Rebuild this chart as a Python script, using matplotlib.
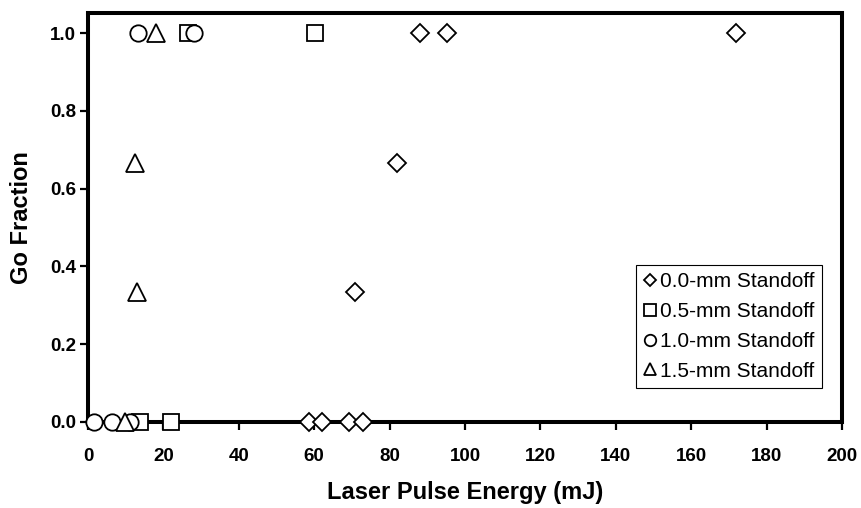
import matplotlib
matplotlib.use("Agg")
import matplotlib.pyplot as plt

# Data (Laser pulse energy in mJ, go fraction)
x_00 = [58.7, 62.1, 69.3, 73.0, 70.7, 81.9, 88.0, 95.2, 172.0]
y_00 = [0.0, 0.0, 0.0, 0.0, 0.333, 0.667, 1.0, 1.0, 1.0]

x_05 = [13.9, 22.1, 26.4, 60.3]
y_05 = [0.0, 0.0, 1.0, 1.0]

x_10 = [1.6, 6.4, 11.2, 13.3, 28.0]
y_10 = [0.0, 0.0, 0.0, 1.0, 1.0]

x_15 = [9.9, 12.5, 13.1, 18.1]
y_15 = [0.0, 0.667, 0.333, 1.0]

labels = ["0.0-mm Standoff", "0.5-mm Standoff", "1.0-mm Standoff", "1.5-mm Standoff"]
xticks = [0, 20, 40, 60, 80, 100, 120, 140, 160, 180, 200]
yticks = [0.0, 0.2, 0.4, 0.6, 0.8, 1.0]

plt.rcParams['font.family'] = ['Liberation Sans', 'DejaVu Sans']

fig = plt.figure(figsize=(8.62, 5.08), dpi=100)
ax = fig.add_axes([88/862, 1-422/508, (842-88)/862, (422-13)/508])

common = dict(linestyle='none', markerfacecolor='white', markeredgecolor='black',
              markeredgewidth=1.3, clip_on=False)
ax.plot(x_00, y_00, marker='D', markersize=9.0, label=labels[0], zorder=5, **common)
ax.plot(x_05, y_05, marker='s', markersize=12.0, label=labels[1], zorder=6, **common)
ax.plot(x_10, y_10, marker='o', markersize=11.8, label=labels[2], zorder=7, **common)
ax.plot(x_15, y_15, marker='^', markersize=13.0, label=labels[3], zorder=8, **common)

ax.set_xlim(0, 200)
ax.set_ylim(0, (422-13)/389)
ax.set_xticks(xticks)
ax.set_yticks(yticks)
ax.set_xticklabels([str(t) for t in xticks], fontsize=13.5, fontweight='bold')
ax.set_yticklabels([f"{t:.1f}" for t in yticks], fontsize=13.5, fontweight='bold')

for s in ax.spines.values():
    s.set_linewidth(2.9)
    s.set_zorder(3)
ax.tick_params(direction='out', length=5.5, width=1.6)
ax.tick_params(axis='x', pad=13)
ax.tick_params(axis='y', pad=3)

ax.set_xlabel("Laser Pulse Energy (mJ)", fontsize=17, fontweight='bold', va='center')
ax.xaxis.set_label_coords(0.5, (15-86)/409)
ax.set_ylabel("Go Fraction", fontsize=17, fontweight='bold', va='center')
ax.yaxis.set_label_coords((22-88)/754, 0.5)

leg = ax.legend(loc='lower right', bbox_to_anchor=(822/862, 1-388/508),
                bbox_transform=fig.transFigure, fontsize=15, markerscale=0.7,
                frameon=True, fancybox=False, edgecolor='black', framealpha=1,
                handlelength=0.6, handletextpad=0.2, borderpad=0.35,
                labelspacing=0.52, borderaxespad=0)
leg.get_frame().set_linewidth(0.8)
leg.set_zorder(10)

fig.savefig("out.png", dpi=100)
